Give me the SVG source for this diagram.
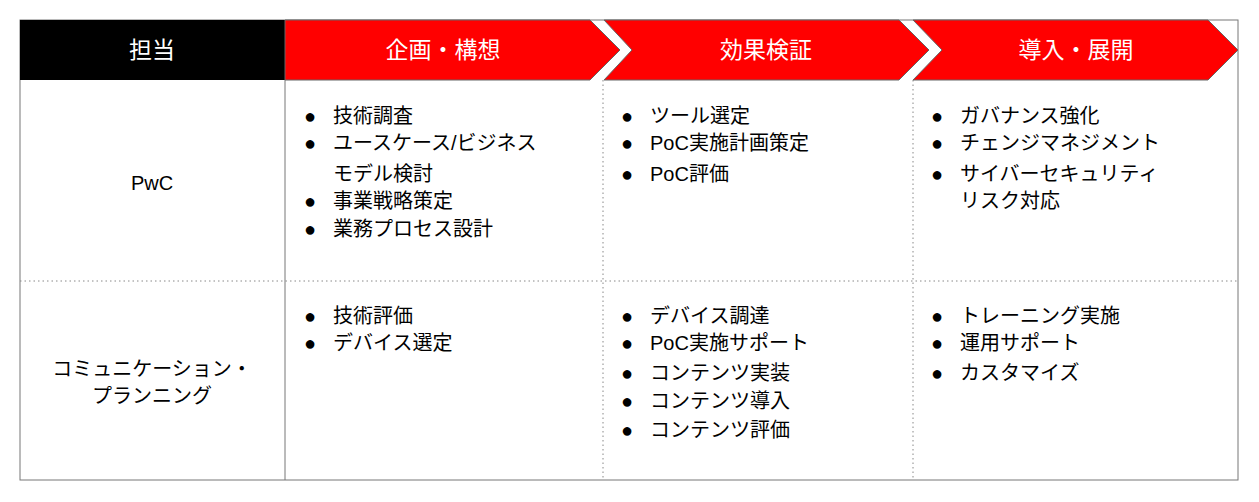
<svg xmlns="http://www.w3.org/2000/svg" width="1259" height="502" viewBox="0 0 1259 502">
<style>
text{font-family:"Liberation Sans","Noto Sans CJK JP",sans-serif;fill:#000;font-size:20px}
.h{fill:#fff;font-size:23px;text-anchor:middle}
.c{text-anchor:middle}
.d{stroke:#888;stroke-width:1;stroke-dasharray:1.5 3;fill:none}
.s{stroke:#777;stroke-width:1;fill:none}
.r{fill:#f00;stroke:#666;stroke-width:1}
</style>
<rect width="1259" height="502" fill="#fff"/>
<g id="lines">
<rect class="s" x="20" y="20" width="1218" height="460"/>
<line class="s" x1="285" y1="20" x2="285" y2="480"/>
<line class="d" x1="603" y1="80" x2="603" y2="480"/>
<line class="d" x1="913" y1="80" x2="913" y2="480"/>
<line class="d" x1="20" y1="281" x2="1238" y2="281"/>
</g>
<g id="h0"><rect x="20" y="20" width="265" height="60" fill="#000"/><text class="h" x="152" y="58">担当</text></g>
<g id="h1"><polygon class="r" points="285,20 590,20 620,50 590,80 285,80"/><text class="h" x="443" y="58">企画・構想</text></g>
<g id="h2"><polygon class="r" points="604,20 899,20 929,50 899,80 604,80 632,50"/><text class="h" x="766" y="58">効果検証</text></g>
<g id="h3"><polygon class="r" points="913,20 1208,20 1238,50 1208,80 913,80 942,50"/><text class="h" x="1076" y="58">導入・展開</text></g>
<g id="pwc"><text class="c" x="152" y="190">PwC</text></g>
<g id="cp"><text class="c" x="152" y="376">コミュニケーション・</text><text class="c" x="152" y="403">プランニング</text></g>
<g id="c11">
<text x="304" y="123">●</text><text x="333" y="123">技術調査</text>
<text x="304" y="150">●</text><text x="333" y="150">ユースケース/ビジネス</text>
<text x="333" y="181">モデル検討</text>
<text x="304" y="208">●</text><text x="333" y="208">事業戦略策定</text>
<text x="304" y="236">●</text><text x="333" y="236">業務プロセス設計</text>
</g>
<g id="c12">
<text x="621" y="123">●</text><text x="650" y="123">ツール選定</text>
<text x="621" y="150">●</text><text x="650" y="150">PoC実施計画策定</text>
<text x="621" y="181">●</text><text x="650" y="181">PoC評価</text>
</g>
<g id="c13">
<text x="931" y="123">●</text><text x="960" y="123">ガバナンス強化</text>
<text x="931" y="150">●</text><text x="960" y="150">チェンジマネジメント</text>
<text x="931" y="181">●</text><text x="960" y="181">サイバーセキュリティ</text>
<text x="960" y="208">リスク対応</text>
</g>
<g id="c21">
<text x="304" y="323">●</text><text x="333" y="323">技術評価</text>
<text x="304" y="350">●</text><text x="333" y="350">デバイス選定</text>
</g>
<g id="c22">
<text x="621" y="323">●</text><text x="650" y="323">デバイス調達</text>
<text x="621" y="350">●</text><text x="650" y="350">PoC実施サポート</text>
<text x="621" y="380">●</text><text x="650" y="380">コンテンツ実装</text>
<text x="621" y="408">●</text><text x="650" y="408">コンテンツ導入</text>
<text x="621" y="437">●</text><text x="650" y="437">コンテンツ評価</text>
</g>
<g id="c23">
<text x="931" y="323">●</text><text x="960" y="323">トレーニング実施</text>
<text x="931" y="350">●</text><text x="960" y="350">運用サポート</text>
<text x="931" y="380">●</text><text x="960" y="380">カスタマイズ</text>
</g>
</svg>
